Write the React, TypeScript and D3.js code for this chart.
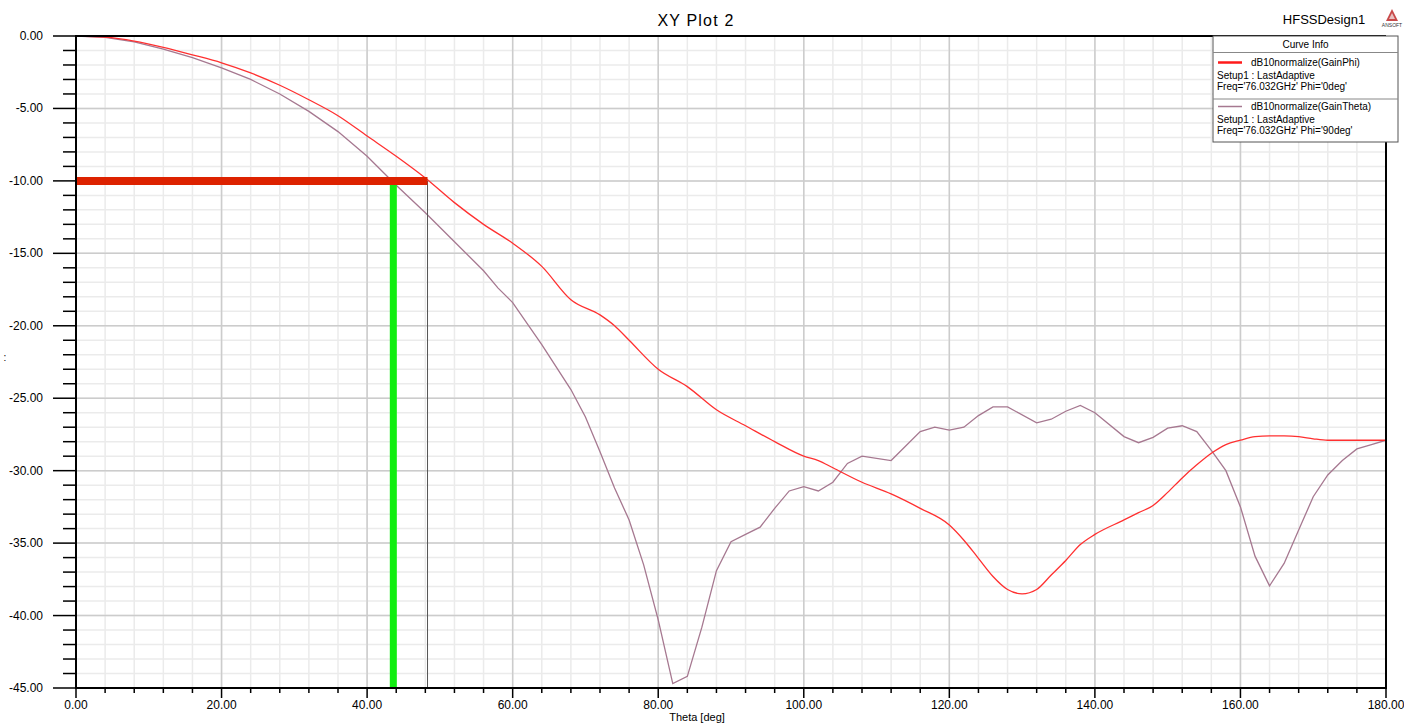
import React from "react";
import * as d3 from "d3";

// ---- data ----
const phiTheta = [0,4,8,12,16,20,24,28,32,36,40,44,48,52,56,60,64,68,72,74,76,80,84,88,92,96,100,102,104,108,112,116,120,122,124,126,128,130,132,134,136,138,140,144,146,148,150,152,154,156,158,160,162,164,166,168,170,172,176,180];
const gainPhi = [0,-0.08,-0.35,-0.78,-1.3,-1.85,-2.55,-3.4,-4.4,-5.5,-6.9,-8.3,-9.8,-11.5,-13.0,-14.3,-15.9,-18.2,-19.25,-20.0,-21.0,-23.0,-24.2,-25.8,-26.9,-28.0,-29.0,-29.3,-29.8,-30.8,-31.6,-32.6,-33.75,-34.8,-36.05,-37.3,-38.2,-38.5,-38.2,-37.2,-36.2,-35.1,-34.4,-33.4,-32.9,-32.4,-31.5,-30.5,-29.6,-28.8,-28.2,-27.9,-27.65,-27.6,-27.6,-27.65,-27.8,-27.9,-27.9,-27.9];

const thetaTheta = [0,4,8,12,16,20,24,28,32,36,40,44,48,52,56,58,60,64,68,70,72,74,76,78,80,82,84,86,88,90,92,94,96,98,100,102,104,106,108,112,116,118,120,122,124,126,128,132,134,136,138,140,144,146,148,150,152,154,156,158,160,162,164,166,168,170,172,174,176,178,180];
const gainTheta = [0,-0.1,-0.4,-0.9,-1.5,-2.2,-3.0,-4.0,-5.2,-6.6,-8.3,-10.3,-12.2,-14.2,-16.2,-17.4,-18.4,-21.3,-24.4,-26.3,-28.7,-31.2,-33.4,-36.5,-40.3,-44.7,-44.2,-40.8,-36.9,-34.9,-34.4,-33.9,-32.6,-31.4,-31.1,-31.4,-30.8,-29.5,-29.0,-29.3,-27.3,-27.0,-27.2,-27.0,-26.2,-25.6,-25.6,-26.7,-26.45,-25.9,-25.5,-26.0,-27.65,-28.07,-27.7,-27.07,-26.9,-27.3,-28.6,-30.0,-32.5,-35.9,-37.95,-36.4,-34.1,-31.8,-30.3,-29.3,-28.5,-28.2,-27.9];

const markerLevel = -10;
const markerPhiX = 48.3;
const markerThetaX = 43.6;

const xTickValues = [0, 20, 40, 60, 80, 100, 120, 140, 160, 180];
const yTickValues = [0, -5, -10, -15, -20, -25, -30, -35, -40, -45];

const legendEntries = [
  { name: "dB10normalize(GainPhi)", setup: "Setup1 : LastAdaptive", freq: "Freq='76.032GHz'  Phi='0deg'", color: "#ff1a1a" },
  { name: "dB10normalize(GainTheta)", setup: "Setup1 : LastAdaptive", freq: "Freq='76.032GHz'  Phi='90deg'", color: "#a67890" },
];

const FONT = "'Liberation Sans', Arial, sans-serif";

export default function App() {
  const left = 76, right = 1386, top = 36, bottom = 688;
  const x = d3.scaleLinear().domain([0, 180]).range([left, right]);
  const y = d3.scaleLinear().domain([-45, 0]).range([bottom, top]);

  const minorX = d3.range(0, 181, 4);
  const minorY = d3.range(-45, 0.1, 1);

  const redLine = d3.line<number>().x((_, i) => x(phiTheta[i])).y((d) => y(d)).curve(d3.curveMonotoneX)(gainPhi) || "";
  const purpleLine = d3.line<number>().x((_, i) => x(thetaTheta[i])).y((d) => y(d))(gainTheta) || "";

  const lx = 1213, ly = 36, lw = 185, lh = 106;

  return (
    <svg width={1404} height={724} style={{ position: "absolute", left: 0, top: 0, background: "#fff" }} fontFamily={FONT}>
      <rect x={0} y={0} width={1404} height={724} fill="#fff" />
      <defs>
        <clipPath id="plotClip">
          <rect x={left} y={top} width={right - left} height={bottom - top} />
        </clipPath>
      </defs>
      {/* minor grid */}
      {minorX.map((v) => (
        <line key={"gx" + v} x1={x(v)} x2={x(v)} y1={top} y2={bottom} stroke="#ebebeb" strokeWidth={1.5} />
      ))}
      {minorY.map((v) => (
        <line key={"gy" + v} x1={left} x2={right} y1={y(v)} y2={y(v)} stroke="#ebebeb" strokeWidth={1.5} />
      ))}
      {/* major grid */}
      {xTickValues.map((v) => (
        <line key={"Gx" + v} x1={x(v)} x2={x(v)} y1={top} y2={bottom} stroke="#cccccc" strokeWidth={1.5} />
      ))}
      {yTickValues.map((v) => (
        <line key={"Gy" + v} x1={left} x2={right} y1={y(v)} y2={y(v)} stroke="#cccccc" strokeWidth={1.5} />
      ))}

      {/* curves */}
      <g clipPath="url(#plotClip)">
        <path d={purpleLine} fill="none" stroke="#a67890" strokeWidth={1.3} />
        <path d={redLine} fill="none" stroke="#ff3030" strokeWidth={1.3} />
      </g>

      {/* markers */}
      <line x1={x(markerPhiX)} x2={x(markerPhiX)} y1={y(markerLevel)} y2={y(-45)} stroke="#555" strokeWidth={1} />
      <line x1={x(0)} x2={x(markerPhiX)} y1={y(markerLevel)} y2={y(markerLevel)} stroke="#dd2200" strokeWidth={8} />
      <line x1={x(markerThetaX)} x2={x(markerThetaX)} y1={y(markerLevel) + 4} y2={y(-45)} stroke="#11ee11" strokeWidth={7} />

      {/* borders */}
      <line x1={left} x2={right} y1={top} y2={top} stroke="#000" strokeWidth={2} />
      <line x1={right} x2={right} y1={top} y2={bottom} stroke="#000" strokeWidth={2} />
      <line x1={left} x2={right + 1} y1={bottom} y2={bottom} stroke="#000" strokeWidth={2} />
      <line x1={left} x2={left} y1={top - 1} y2={bottom + 1} stroke="#000" strokeWidth={2} />

      {/* left ticks */}
      {minorY.map((v) => {
        const major = Math.abs(v % 5) < 1e-9;
        return <line key={"ty" + v} x1={major ? 53 : 63} x2={left} y1={y(v)} y2={y(v)} stroke="#000" strokeWidth={1.5} />;
      })}
      {yTickValues.map((v) => (
        <text key={"ly" + v} x={43} y={y(v) + 4} fontSize={12} textAnchor="end" fill="#000">
          {v.toFixed(2)}
        </text>
      ))}
      {/* bottom ticks */}
      {minorX.map((v) => {
        const major = v % 20 === 0;
        return <line key={"tx" + v} x1={x(v)} x2={x(v)} y1={bottom} y2={bottom + (major ? 10 : 5)} stroke="#000" strokeWidth={1.5} />;
      })}
      {xTickValues.map((v) => (
        <text key={"lx" + v} x={x(v)} y={709} fontSize={12} textAnchor="middle" fill="#000">
          {v.toFixed(2)}
        </text>
      ))}

      {/* axis labels & titles */}
      <text x={697} y={721} fontSize={11} textAnchor="middle" fill="#000">Theta [deg]</text>
      <text x={5} y={361} fontSize={10} textAnchor="middle" fill="#000">:</text>
      <text x={696} y={26} fontSize={16} textAnchor="middle" letterSpacing={1.2} fill="#000">XY Plot 2</text>
      <text x={1324} y={24} fontSize={13} textAnchor="middle" fill="#000">HFSSDesign1</text>
      {/* small logo */}
      <path d="M1392,9 L1398,21 L1386,21 Z" fill="#c84a4a" />
      <path d="M1392,13 L1395,19 L1389,19 Z" fill="#e8c0c0" />
      <text x={1392} y={27} fontSize={5} textAnchor="middle" fill="#333">ANSOFT</text>

      {/* legend */}
      <rect x={lx} y={ly} width={lw} height={lh} fill="#fff" stroke="#555" strokeWidth={1} />
      <text x={lx + lw / 2} y={48} fontSize={10} textAnchor="middle" fill="#000">Curve Info</text>
      <line x1={lx} x2={lx + lw} y1={52.5} y2={52.5} stroke="#888" strokeWidth={1} />
      <line x1={lx} x2={lx + lw} y1={99} y2={99} stroke="#888" strokeWidth={1} />
      {legendEntries.map((e, i) => {
        const base = i === 0 ? 65.5 : 109.5;
        return (
          <g key={"leg" + i}>
            <line x1={1218} x2={1242} y1={base - 3} y2={base - 3} stroke={e.color} strokeWidth={i === 0 ? 2.5 : 1.5} />
            <text x={1251} y={base} fontSize={10} fill="#000">{e.name}</text>
            <text x={1217} y={base + 13.5} fontSize={10} fill="#000">{e.setup}</text>
            <text x={1217} y={base + 24} fontSize={10} fill="#000">{e.freq}</text>
          </g>
        );
      })}
    </svg>
  );
}
